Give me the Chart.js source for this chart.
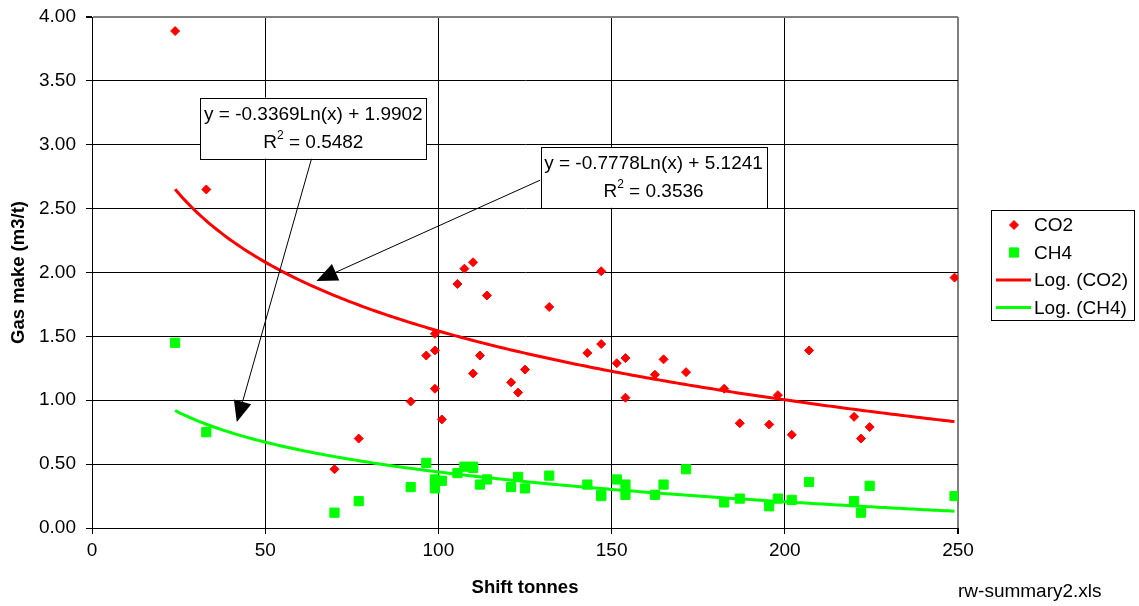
<!DOCTYPE html>
<html>
<head>
<meta charset="utf-8">
<script src="https://cdn.jsdelivr.net/npm/chart.js@4.4.1/dist/chart.umd.min.js"></script>
<style>
    body { margin: 0; background: #fff; }
    #wrap { width: 1139px; height: 606px; }
</style>
</head>
<body>
<div id="wrap"><canvas id="scatterChart" width="1139" height="606"></canvas></div>
<script>
// shift tonnes (shared by both gases)
const shiftTonnes = [24, 33, 70, 77, 92, 96.5, 99, 99, 99, 101, 105.5, 107.5, 110, 110, 112, 114, 121, 123, 125, 132,
    143, 147, 147, 151.5, 154, 154, 162.5, 165, 171.5, 182.5, 187, 195.5, 198, 202, 207, 220, 222, 224.5, 249];
const co2Make = [3.89, 2.65, 0.46, 0.70, 0.99, 1.35, 1.39, 1.52, 1.09, 0.85, 1.91, 2.03, 2.08, 1.21, 1.35, 1.82, 1.14, 1.06, 1.24, 1.73,
    1.37, 2.01, 1.44, 1.29, 1.33, 1.02, 1.20, 1.32, 1.22, 1.09, 0.82, 0.81, 1.04, 0.73, 1.39, 0.87, 0.70, 0.79, 1.96];
const ch4Make = [1.45, 0.75, 0.12, 0.21, 0.32, 0.51, 0.38, 0.31, 0.36, 0.37, 0.43, 0.48, 0.48, 0.47, 0.34, 0.38, 0.32, 0.40, 0.31, 0.41,
    0.34, 0.25, 0.26, 0.38, 0.34, 0.26, 0.26, 0.34, 0.46, 0.20, 0.23, 0.17, 0.23, 0.22, 0.36, 0.21, 0.12, 0.33, 0.25];

// log trendlines as printed on the chart: [slope, intercept, R2]
const co2Trend = [-0.7778, 5.1241, 0.3536];
const ch4Trend = [-0.3369, 1.9902, 0.5482];

const xTicks = [0, 50, 100, 150, 200, 250];
const yTicks = [0, 0.5, 1, 1.5, 2, 2.5, 3, 3.5, 4];

const FONT = "'Liberation Sans', Arial, sans-serif";
const FS = 19;

function points(xs, ys) {
    return xs.map((x, i) => ({ x: x, y: ys[i] }));
}

function trend(coef) {
    const lo = Math.min(...shiftTonnes), hi = Math.max(...shiftTonnes);
    const pts = [];
    for (let x = lo; x < hi; x += 1) pts.push({ x: x, y: coef[0] * Math.log(x) + coef[1] });
    pts.push({ x: hi, y: coef[0] * Math.log(hi) + coef[1] });
    return pts;
}

function fmt(n) {
    return n.toFixed(4);
}

function drawEquation(ctx, x, y, coef) {
    const cx = x.getPixelForValue(coef.boxX), cy = y.getPixelForValue(coef.boxY);
    const w = 226, h = 61;
    ctx.fillStyle = "#fff";
    ctx.fillRect(cx - w / 2, cy - h / 2, w, h);
    ctx.strokeStyle = "#000";
    ctx.lineWidth = 1;
    ctx.strokeRect(Math.round(cx - w / 2) + 0.5, Math.round(cy - h / 2) + 0.5, w, h);

    ctx.fillStyle = "#000";
    ctx.textBaseline = "middle";
    ctx.font = FS + "px " + FONT;
    ctx.textAlign = "center";
    const eq = "y = " + fmt(coef.t[0]) + "Ln(x) + " + fmt(coef.t[1]);
    ctx.fillText(eq, cx, cy - h / 2 + 17);

    const a = "R", b = " = " + fmt(coef.t[2]);
    const wa = ctx.measureText(a).width, wb = ctx.measureText(b).width;
    ctx.font = "12px " + FONT;
    const ws = ctx.measureText("2").width;
    const sx = cx - (wa + ws + wb) / 2;
    const ly = cy - h / 2 + 45;
    ctx.textAlign = "left";
    ctx.font = FS + "px " + FONT;
    ctx.fillText(a, sx, ly);
    ctx.font = "12px " + FONT;
    ctx.fillText("2", sx + wa, ly - 7);
    ctx.font = FS + "px " + FONT;
    ctx.fillText(b, sx + wa + ws, ly);
}

function drawArrow(ctx, x, y, from, to) {
    const x1 = x.getPixelForValue(from[0]), y1 = y.getPixelForValue(from[1]);
    const x2 = x.getPixelForValue(to[0]), y2 = y.getPixelForValue(to[1]);
    const ang = Math.atan2(y2 - y1, x2 - x1);
    const len = 21, half = 9;
    const bx = x2 - len * Math.cos(ang), by = y2 - len * Math.sin(ang);
    ctx.strokeStyle = "#000";
    ctx.lineWidth = 1;
    ctx.beginPath();
    ctx.moveTo(x1, y1);
    ctx.lineTo(bx, by);
    ctx.stroke();
    ctx.fillStyle = "#000";
    ctx.beginPath();
    ctx.moveTo(x2, y2);
    ctx.lineTo(bx + half * Math.sin(ang), by - half * Math.cos(ang));
    ctx.lineTo(bx - half * Math.sin(ang), by + half * Math.cos(ang));
    ctx.closePath();
    ctx.fill();
}

const extras = {
    id: "extras",
    afterDraw(chart) {
        const { ctx, chartArea, scales: { x, y } } = chart;
        ctx.save();

        // axis titles
        ctx.fillStyle = "#000";
        ctx.font = "bold 18.5px " + FONT;
        ctx.textAlign = "center";
        ctx.textBaseline = "middle";
        ctx.fillText("Shift tonnes", (chartArea.left + chartArea.right) / 2, 588);
        ctx.save();
        ctx.translate(19, (chartArea.top + chartArea.bottom) / 2);
        ctx.rotate(-Math.PI / 2);
        ctx.fillText("Gas make (m3/t)", 0, 0);
        ctx.restore();

        ctx.font = FS + "px " + FONT;
        ctx.textAlign = "left";
        ctx.fillText("rw-summary2.xls", 958, 592);

        // arrows then equation boxes
        drawArrow(ctx, x, y, [63.4, 2.893], [41.8, 0.829]);
        drawArrow(ctx, x, y, [129.4, 2.723], [64.8, 1.934]);
        drawEquation(ctx, x, y, { boxX: 63.9, boxY: 3.13, t: ch4Trend });
        drawEquation(ctx, x, y, { boxX: 162.1, boxY: 2.745, t: co2Trend });

        // legend
        const lx = 991, ly = 210, lw = 143, lh = 110;
        ctx.fillStyle = "#fff";
        ctx.fillRect(lx, ly, lw, lh);
        ctx.strokeStyle = "#000";
        ctx.lineWidth = 1;
        ctx.strokeRect(lx + 0.5, ly + 0.5, lw, lh);
        chart.data.datasets.forEach((ds, i) => {
            const ry = 225 + i * 27.5;
            if (ds.showLine) {
                ctx.strokeStyle = ds.borderColor;
                ctx.lineWidth = 3;
                ctx.beginPath();
                ctx.moveTo(996, ry);
                ctx.lineTo(1031, ry);
                ctx.stroke();
            } else {
                ctx.fillStyle = ds.backgroundColor;
                ctx.strokeStyle = ds.borderColor;
                ctx.lineWidth = 1;
                Chart.helpers.drawPoint(ctx, {
                    pointStyle: ds.pointStyle, radius: ds.pointRadius, borderWidth: 1
                }, 1014, ry);
            }
            ctx.fillStyle = "#000";
            ctx.font = FS + "px " + FONT;
            ctx.textAlign = "left";
            ctx.textBaseline = "middle";
            ctx.fillText(ds.label, 1034, ry + 1);
        });
        ctx.restore();
    }
};

const ctx = document.getElementById("scatterChart").getContext("2d");
new Chart(ctx, {
    type: "scatter",
    data: {
        datasets: [
            {
                label: "CO2",
                data: points(shiftTonnes, co2Make),
                pointStyle: "rectRot",
                pointRadius: 4.5,
                backgroundColor: "#ff0000",
                borderColor: "#ff0000",
                borderWidth: 1,
                order: 2,
            },
            {
                label: "CH4",
                data: points(shiftTonnes, ch4Make),
                pointStyle: "rect",
                pointRadius: 6.5,
                backgroundColor: "#00ff00",
                borderColor: "#00ff00",
                borderWidth: 1,
                order: 3,
            },
            {
                label: "Log. (CO2)",
                data: trend(co2Trend),
                showLine: true,
                pointRadius: 0,
                borderColor: "#ff0000",
                backgroundColor: "#ff0000",
                borderWidth: 3,
                order: 0,
            },
            {
                label: "Log. (CH4)",
                data: trend(ch4Trend),
                showLine: true,
                pointRadius: 0,
                borderColor: "#00ff00",
                backgroundColor: "#00ff00",
                borderWidth: 3,
                order: 1,
            },
        ],
    },
    options: {
        responsive: false,
        animation: false,
        layout: { padding: { top: 17, right: 181, left: 0, bottom: 0 } },
        plugins: {
            legend: { display: false },
            tooltip: { enabled: false },
        },
        scales: {
            x: {
                type: "linear",
                min: xTicks[0],
                max: xTicks[xTicks.length - 1],
                afterFit: (s) => { s.height = 78; s.paddingLeft = 0; s.paddingRight = 0; },
                afterBuildTicks: (s) => { s.ticks = xTicks.map(v => ({ value: v })); },
                ticks: { color: "#000", font: { family: FONT, size: FS }, padding: 5, maxRotation: 0 },
                grid: {
                    color: (c) => c.tick && c.tick.value === 250 ? "#808080" : "#000",
                    lineWidth: (c) => c.tick && c.tick.value === 250 ? 2 : 1,
                    tickColor: "#000",
                    tickLength: 6,
                },
                border: { color: "#000", width: 1 },
            },
            y: {
                min: yTicks[0],
                max: yTicks[yTicks.length - 1],
                afterFit: (s) => { s.width = 92; s.paddingTop = 0; s.paddingBottom = 0; },
                afterBuildTicks: (s) => { s.ticks = yTicks.map(v => ({ value: v })); },
                ticks: {
                    color: "#000",
                    font: { family: FONT, size: FS },
                    padding: 10,
                    callback: (v) => Number(v).toFixed(2),
                },
                grid: {
                    color: (c) => c.tick && c.tick.value === 4 ? "#808080" : "#000",
                    lineWidth: (c) => c.tick && c.tick.value === 4 ? 2 : 1,
                    tickColor: "#000",
                    tickLength: 6,
                },
                border: { color: "#000", width: 1 },
            },
        },
    },
    plugins: [extras],
});
</script>
</body>
</html>
